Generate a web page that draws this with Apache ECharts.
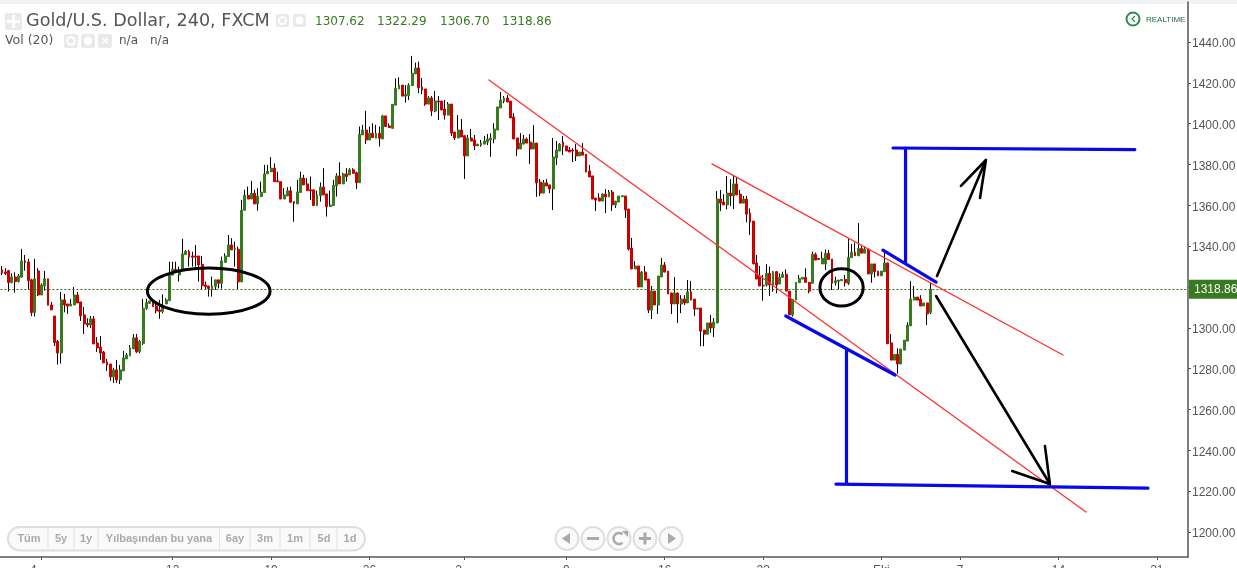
<!DOCTYPE html>
<html><head><meta charset="utf-8">
<style>html,body{margin:0;padding:0;background:#fff}#c{width:1237px;height:568px}</style>
<script src="https://cdn.jsdelivr.net/npm/echarts@6/dist/echarts.min.js"></script>
</head><body><div id="c"></div>
<script>
const opens=[1328.4,1327.4,1328.0,1322.2,1324.9,1322.7,1324.8,1332.8,1332.3,1323.5,
1307.5,1327.9,1316.1,1320.5,1324,1311.2,1305.8,1293.3,1287.7,1313.7,
1311.7,1310.7,1311.2,1316.1,1312.7,1306.3,1302.2,1301.4,1304.4,1292.6,
1290.6,1288.2,1283.3,1282.3,1276,1279.4,1274.5,1278.9,1284.8,1286.2,
1289.7,1295.1,1288.4,1292.4,1309.6,1312,1312.9,1310.7,1308.8,1308,
1311.7,1313.3,1325.8,1328.7,1325.9,1328.4,1335.9,1337.5,1335.2,1335.2,
1335.2,1331.1,1321,1320.5,1318.9,1320.2,1323.5,1321.8,1332.1,1334.9,
1340.6,1338.3,1338.5,1322.5,1357.6,1364.9,1363.1,1365.9,1360.7,1364.3,
1366.3,1375.4,1376.4,1378.2,1372,1371.6,1363.1,1364.6,1367.1,1361.8,
1360.7,1366.3,1373.4,1370.5,1367.6,1367.6,1359.9,1364.8,1369,1365.6,
1359.4,1359.9,1369.5,1374.4,1370.5,1375.4,1374.9,1377.4,1376,1371.1,
1394.5,1396.9,1392,1395.3,1392.9,1395.3,1392.5,1403.8,1398.9,1397.7,
1409.1,1417,1418.9,1413.5,1413.8,1418.7,1424.4,1427.3,1418,1417,
1409.6,1412.6,1406.2,1411.1,1411.1,1407.2,1404.2,1409.6,1395.9,1393,
1396.9,1394.1,1384.2,1393,1392,1389.1,1389.5,1390,1391,1392,
1392.5,1396.9,1407.7,1411,1412.6,1411.1,1403.3,1393,1387.6,1390,
1392.5,1391,1387.6,1390.5,1371.4,1366,1371,1370,1368,1383.2,
1386.6,1391,1389.1,1387.1,1387.1,1387.1,1384.2,1386.1,1385.1,1376.8,
1374.4,1363.6,1363.6,1362.1,1365.5,1364.1,1366.5,1360.2,1361.6,1364.2,
1364.6,1358.2,1339.1,1328.8,1330.3,1320,1327.3,1323.9,1308.7,1318,
1311.2,1324.9,1330.8,1327.8,1317.1,1311.7,1317.1,1311.7,1314.1,1312.2,
1317.6,1314.1,1309.2,1309.7,1298.9,1296.9,1302.4,1299.9,1302.4,1363.1,
1361.6,1360.2,1366,1364.6,1370.5,1365.5,1361.1,1363.1,1356.2,1352.3,
1331.8,1325.4,1320.8,1321,1326.7,1321,1327.5,1321.5,1324.7,1326.2,
1318,1306.3,1313.6,1322.1,1323.9,1324.7,1322.3,1321.8,1336,1334,
1331.3,1331.3,1336.5,1333.7,1322.1,1322.8,1323.1,1323.7,1321.8,1334.4,
1337,1335.3,1338.9,1336.6,1338.6,1326.4,1331.3,1327.8,1325.5,1327.5,
1331.8,1292.6,1284.2,1287,1282.3,1289.1,1293.5,1301,1313.6,1315.1,
1314.1,1310.7,1312.2,1307.62];
const closes=[1326.9,1326.6,1322.2,1324.9,1322.7,1325.4,1332.8,1332.0,1323.1,1307.5,
1324,1316.1,1321,1324,1311.1,1308.8,1292.8,1287.7,1313.7,1311.2,
1310.7,1311.7,1316.1,1312.2,1305.8,1301.9,1301.4,1304.4,1292.1,1290.2,
1287.7,1282.8,1281.8,1276,1279.4,1274.5,1279.4,1285.3,1286.7,1290.2,
1295.1,1288.2,1293.3,1309.6,1312.4,1313.2,1310.4,1308.3,1308,1310.4,
1313.7,1325.8,1328.7,1327.6,1327.6,1336.2,1337.5,1334.6,1334.6,1334.7,
1330.8,1320.7,1320.2,1319.2,1320.5,1323.5,1321.8,1332.8,1335.2,1340.6,
1338.2,1338.8,1322.5,1357.6,1364.9,1363.1,1365.9,1360.7,1364.6,1366.4,
1375.4,1376.7,1378.2,1371.6,1371.5,1363.1,1365.1,1367.1,1361.5,1361,
1366.6,1373.4,1370,1367.2,1367.1,1359.9,1365.1,1369,1365.1,1359.4,
1360.2,1369.8,1374.4,1370.5,1375.4,1374.1,1377.4,1375.7,1371.1,1394.8,
1396.9,1392,1395.3,1393.2,1395.3,1392.9,1403.8,1398.6,1398.1,1409.5,
1417.3,1418.9,1413.5,1414.4,1418.9,1424.7,1427.3,1417.6,1416.5,1409.6,
1412.6,1406.2,1411.1,1410.6,1406.7,1404.2,1409.6,1395.4,1393,1396.9,
1393.5,1384.2,1393,1391.5,1389.1,1390,1390.5,1391.5,1392.5,1393,
1397.4,1408.2,1411.6,1412.6,1410.6,1402.8,1392.5,1387.6,1390.5,1392.5,
1390.5,1387.6,1390.5,1371,1366,1371,1369.5,1368,1383.7,1387.1,
1390,1388.7,1386.6,1386.1,1386.6,1384.2,1386.1,1384.6,1376.3,1373.9,
1363.1,1362.6,1362.1,1365.5,1364.1,1366.5,1360.2,1362.1,1364.6,1364.7,
1357.7,1338.6,1328.8,1330.3,1320,1327.3,1323.4,1308.7,1318,1311.2,
1325.4,1330.8,1327.3,1316.6,1311.7,1317.1,1311.7,1314.1,1312.2,1317.6,
1313.6,1309.2,1309.7,1298.4,1296.9,1302.4,1299.9,1302.8,1363.1,1361.1,
1360.2,1366,1364.6,1370.5,1365.1,1361.1,1363.1,1355.7,1351.8,1331.3,
1323.9,1320.5,1320.5,1326.7,1321,1327.5,1321,1324.7,1326.2,1318,
1306.3,1313.9,1322.3,1324.2,1324.7,1322.3,1318,1336,1333.2,1333.5,
1334,1336.5,1333.5,1321.8,1323.1,1323.4,1323.7,1322.1,1334.5,1337,
1335.3,1338.9,1336.6,1338.6,1326.4,1331.3,1327.5,1325.5,1327.8,1331.8,
1292.2,1284.2,1287,1282.3,1289.6,1294,1301.4,1314.1,1315.1,1313.6,
1310.7,1312.2,1306.8,1318.86];
const lows=[1325.9,1325.9,1317.8,1321.8,1317.3,1322.2,1324.8,1328.0,1318.6,1305.8,
1305.5,1315.6,1316.1,1318.2,1311.1,1308.8,1291.1,1282,1282.5,1307.6,
1306.8,1310.7,1311.2,1312.2,1303.4,1297,1300.3,1300,1292.1,1288.2,
1284.3,1282.8,1278.9,1274,1273,1273,1272.5,1278.9,1284.8,1286.2,
1289.7,1287.7,1287.5,1291.6,1308.8,1312,1310.4,1307.1,1304.4,1307.1,
1311.7,1313.3,1325.8,1327.6,1322.7,1328.4,1335.9,1330,1330,1330,
1322.7,1318.6,1318.6,1315.3,1315.3,1318.6,1319.4,1319.2,1332.1,1334.9,
1338.2,1330,1318.6,1322.5,1357.6,1363.1,1363.1,1360.7,1357.4,1364.3,
1366.3,1375.4,1376.4,1371.6,1371.5,1363.1,1363.1,1364.6,1361.5,1352,
1360.7,1366.3,1370,1367.2,1362.7,1359.9,1359.9,1361.8,1365.1,1354.5,
1359.4,1359.9,1364.3,1370.5,1370.5,1371.6,1374.9,1375.7,1368,1371.1,
1394.5,1390.1,1392,1393.2,1392.9,1388.8,1392.5,1398.6,1398.1,1397.7,
1409.1,1417,1413.5,1410.3,1411.6,1418.7,1424.4,1414.9,1414.5,1408.8,
1409.6,1403.8,1405.6,1401.8,1406.7,1402,1404.2,1394,1392,1393,
1393.5,1372.9,1384.2,1391.5,1387.1,1389.1,1388.7,1390,1389.5,1383.8,
1390.4,1396.9,1407.7,1410,1410.6,1402.8,1392.5,1384.2,1387.6,1390,
1390.5,1380.2,1387.6,1364.2,1364.6,1366,1369.5,1366,1357.7,1379.8,
1386.6,1384.6,1386.6,1386.1,1381.2,1381.7,1384.2,1384.6,1376.3,1373.9,
1363.1,1357.2,1362.1,1362.1,1356.2,1364.1,1357.2,1358.7,1361.6,1364.2,
1353.8,1337.8,1328.8,1328.8,1320,1320,1323.4,1307.2,1304.3,1311.2,
1306.8,1324.9,1327.3,1316.6,1306.8,1311.7,1302.4,1307.2,1311.2,1312.2,
1313.6,1305.8,1309.2,1291,1291,1296.9,1297.5,1295.5,1302.4,1357.2,
1360.2,1358,1359.7,1358.2,1365.1,1361.1,1361.1,1351.7,1345.5,1331.3,
1323.9,1320.5,1313.3,1320.2,1315.6,1317.7,1316.9,1321.5,1324.7,1318,
1306.3,1305.5,1313.6,1322.1,1323.9,1322.3,1316.9,1321.8,1333.2,1333.5,
1331.3,1328.3,1333.5,1318.5,1320.8,1318.8,1323.1,1320.2,1321,1334.4,
1335.3,1335.3,1336.6,1336.6,1326.4,1322.1,1324.7,1325.5,1325.5,1327.5,
1292.2,1284.2,1284.2,1277.5,1282.3,1289.1,1293.5,1301,1313.6,1313.6,
1310.7,1310.7,1301.4,1306.7];
const highs=[1330.3,1329.2,1328.4,1326.7,1327.2,1326.4,1338.7,1335.7,1333.8,1324,
1333.8,1329.2,1321.8,1327.9,1324,1312.7,1305.8,1294.1,1317.6,1316.6,
1311.7,1314.2,1320,1317.6,1312.7,1310.2,1304.7,1305.8,1305.8,1295.5,
1296,1288.7,1284.8,1282.3,1280.4,1284.3,1281.8,1288.7,1287.7,1291.6,
1297,1297,1294.1,1314.2,1314.2,1313.2,1314.2,1312.9,1313.7,1316.4,
1314.5,1332.4,1332.4,1332.4,1330,1343.6,1338.2,1338.2,1337.3,1340.6,
1335.2,1335.2,1322.7,1320.5,1325.1,1323.5,1323.5,1334.9,1336.5,1345.5,
1343.9,1342.2,1339.8,1362.7,1367.6,1369.2,1372,1367.6,1368.4,1371.6,
1379.8,1379.8,1383.6,1380.6,1376.5,1371.6,1368.4,1368.9,1369.2,1361.8,
1372.5,1376.5,1374.9,1373.3,1374.1,1367.6,1367.2,1371.2,1378.2,1365.6,
1367.2,1372.5,1375.7,1381.1,1376,1378.2,1378.2,1378.2,1376.5,1398.6,
1399.4,1406.3,1398.6,1400.2,1399.4,1398.6,1404.3,1403.8,1400.2,1409.5,
1422.2,1422.7,1418.9,1418.9,1419.8,1433.2,1429.9,1430.4,1422.4,1417,
1413.5,1413.5,1416,1413.5,1411.1,1411.6,1410.6,1409.6,1395.9,1404.2,
1402.3,1394.1,1394.5,1397.4,1394.5,1390,1392,1394,1394.9,1395.3,
1400.2,1408.2,1415.5,1413.5,1414,1411.1,1405.2,1393,1395.4,1394.5,
1393.2,1394.9,1399.3,1390.5,1372.9,1372.4,1372.9,1370,1393,1391.5,
1390.5,1394,1389.1,1388.6,1388,1390,1386.1,1390.5,1385.1,1379.8,
1374.4,1363.6,1365.9,1365.9,1368,1367.5,1367.5,1362.1,1364.6,1364.7,
1364.6,1358.2,1344,1332.7,1330.3,1327.8,1330.3,1323.9,1320.5,1318,
1325.4,1334.2,1332.2,1327.8,1317.1,1324.9,1317.1,1316,1316,1323.4,
1323,1314.1,1309.7,1309.7,1298.9,1302.4,1306.3,1304.8,1367,1367.5,
1365.5,1374.4,1372.9,1374.4,1373.9,1367.5,1364.6,1364.6,1358.5,1352.3,
1335.7,1330.3,1325.9,1331.1,1330,1327.8,1327.8,1326.7,1327.5,1328.6,
1318,1313.9,1322.3,1325.9,1324.7,1329.1,1322.3,1337.3,1336.8,1334,
1337.3,1338.4,1338.1,1333.7,1325,1323.4,1323.7,1325.9,1343.5,1341.1,
1341.7,1351.3,1340.6,1340.1,1338.6,1331.3,1331.3,1327.8,1327.8,1338.1,
1331.8,1297,1287,1290,1289.6,1294,1302.7,1322.9,1320.5,1315.1,
1316,1312.2,1312.2,1322.29];

const bandCount=362;
const lastPrice=1318.86;
const yTicks=[1200,1220,1240,1260,1280,1300,1320,1340,1360,1380,1400,1420,1440];
const xTickIndex=[12,52,82,112,141,172,202,232,268,292,322,352];
const xTickLabels=['4','12','19','26','2','9','16','23','Eki','7','14','21'];
const headerValues=['1307.62','1322.29','1306.70','1318.86'];

// hand-drawn annotations: [candle index, price]
const redLines=[[[148.4,1421.4],[330.4,1209.8]],[[216.4,1380.3],[323.4,1286.7]]];
const blueLines=[
 [[271.6,1388.1],[345.3,1387.3]],
 [[275.4,1388.1],[275.4,1332.2]],
 [[268.5,1338.1],[284.7,1322.4]],
 [[238.9,1305.8],[272.2,1276.9]],
 [[257.4,1288.7],[257.4,1224]],
 [[254.2,1223.5],[349.3,1221.5]]
];
const blackLines=[
 [[285,1325.4],[299.9,1382.2]],
 [[292.3,1369.5],[299.9,1382.2],[298.1,1363.6]],
 [[284.7,1315.6],[319.4,1223.5]],
 [[307.9,1229.9],[319.4,1223.5],[317.9,1242.1]]
];
const ellipses=[[63,1318.0,18.7,11.3],[255.9,1319.8,6.6,9.1]];

const GREEN='#377a1f',RED='#cc0000';
const leftShifted={0:16,4:12};
const categories=Array.from({length:bandCount},(_,i)=>{
  const k=xTickIndex.indexOf(i);
  if(k<0) return String(i);
  return leftShifted[k]?{value:xTickLabels[k],textStyle:{padding:[0,leftShifted[k],0,0]}}:xTickLabels[k];
});
const ohlc=opens.map((o,i)=>[o,closes[i],lows[i],highs[i]]);
const bodies=opens.map((o,i)=>[o,closes[i],Math.min(o,closes[i]),Math.max(o,closes[i])]);

function seg(points,color,width){return{type:'line',xAxisIndex:1,yAxisIndex:0,data:points,showSymbol:false,symbol:'none',silent:true,z:5,
 lineStyle:{color:color,width:width,cap:'round',join:'round'},animation:false};}

const F='"DejaVu Sans",Verdana,sans-serif',A='"Liberation Sans",Arial,sans-serif';
const G=[];
function sq(x,y,s){G.push({type:'rect',shape:{x:x,y:y,width:s,height:s,r:2},style:{fill:'#e9e9e9'},z:20});}
function eye(x,y,s){sq(x,y,s);G.push({type:'circle',shape:{cx:x+s/2,cy:y+s/2,r:s*0.27},style:{fill:'none',stroke:'#fff',lineWidth:2},z:21});}
function gear(x,y,s){sq(x,y,s);G.push({type:'circle',shape:{cx:x+s/2,cy:y+s/2,r:s*0.3},style:{fill:'#fff'},z:21});}
function txt(x,y,t,font,fill,align){G.push({type:'text',x:x,y:y,style:{text:t,font:font,fill:fill,align:align||'left',verticalAlign:'middle'},z:22});}
G.push({type:'rect',shape:{x:0,y:0,width:1237,height:4},style:{fill:'#f1f1f6'},z:-1});
sq(5,13,17);
G.push({type:'rect',shape:{x:12,y:15,width:3,height:13},style:{fill:'#fff'},z:21},{type:'rect',shape:{x:7,y:20,width:13,height:3},style:{fill:'#fff'},z:21});
txt(26,21,'Gold/U.S. Dollar, 240, FXCM','17.6px '+F,'#555');
eye(276,14,13);gear(293,14,13);
[315,377,440,502].forEach((x,i)=>txt(x,22,headerValues[i],'12px '+F,'#377a1f'));
txt(5,41,'Vol (20)','12.5px '+F,'#555');
eye(64,34,14);gear(81,34,14);sq(98,34,14);
txt(105,41,'×','bold 13px '+A,'#fff','center');
txt(119,41,'n/a','12px '+F,'#555');txt(150,41,'n/a','12px '+F,'#555');
// realtime badge
G.push({type:'circle',shape:{cx:1133,cy:19,r:6.5},style:{fill:'none',stroke:'#2e8b57',lineWidth:2},z:21});
G.push({type:'polyline',shape:{points:[[1135,16],[1132,19],[1135,22]]},style:{fill:'none',stroke:'#2e8b57',lineWidth:1.2},z:21});
txt(1146,20,'REALTIME','8px '+A,'#1f6b45');
// range selector
G.push({type:'rect',shape:{x:8,y:527,width:357,height:23.5,r:12},style:{fill:'#fafafa',stroke:'#dedede',lineWidth:2},z:20});
[48,74,98,219.5,250,280,310,337].forEach(x=>G.push({type:'line',shape:{x1:x,y1:528,x2:x,y2:550},style:{stroke:'#e2e2e2',lineWidth:1},z:21}));
[['Tüm',29],['5y',61],['1y',86],['Yılbaşından bu yana',159],['6ay',235],['3m',265],['1m',295],['5d',324],['1d',350]]
 .forEach(b=>txt(b[1],538.5,b[0],'bold 11px '+A,'#aaa','center'));
// navigation
[567,593,619,645,671].forEach(x=>G.push({type:'circle',shape:{cx:x,cy:538.5,r:11.5},style:{fill:'#fafafa',stroke:'#dedede',lineWidth:2},z:20}));
G.push({type:'polygon',shape:{points:[[562,538.5],[570,533],[570,544]]},style:{fill:'#aaa'},z:21});
G.push({type:'rect',shape:{x:587,y:537,width:12,height:3},style:{fill:'#aaa'},z:21});
G.push({type:'arc',shape:{cx:619,cy:538.5,r:5.5,startAngle:-0.9,endAngle:0.9,clockwise:false},style:{fill:'none',stroke:'#aaa',lineWidth:2.5},z:21});
G.push({type:'polygon',shape:{points:[[622,531],[628,531],[628,537]]},style:{fill:'#aaa'},z:21});
G.push({type:'rect',shape:{x:639,y:537,width:12,height:3},style:{fill:'#aaa'},z:21},{type:'rect',shape:{x:643.5,y:532.5,width:3,height:12},style:{fill:'#aaa'},z:21});
G.push({type:'polygon',shape:{points:[[676,538.5],[668,533],[668,544]]},style:{fill:'#aaa'},z:21});

const series=[
 {type:'candlestick',name:'wick',data:ohlc,barWidth:1,z:2,animation:false,silent:true,
  itemStyle:{color:'#000',color0:'#000',borderColor:'#000',borderColor0:'#000',borderWidth:1}},
 {type:'candlestick',name:'body',data:bodies,barWidth:2.4,z:3,animation:false,silent:true,
  itemStyle:{color:GREEN,color0:RED,borderColor:GREEN,borderColor0:RED,borderWidth:1},
  markLine:{silent:true,symbol:'none',animation:false,z:4,
   lineStyle:{color:'#2f6b1a',type:[2,2],width:1},
   label:{show:true,position:'end',formatter:lastPrice.toFixed(2),color:'#fff',backgroundColor:GREEN,
     padding:[4,6,3,5],font:'12px '+A,distance:1},
   data:[{yAxis:lastPrice}]}},
 {type:'custom',xAxisIndex:1,yAxisIndex:0,z:5,silent:true,animation:false,data:ellipses,
  encode:{x:0,y:1},
  renderItem:function(p,api){
    const c=api.coord([api.value(0),api.value(1)]);
    const e=api.coord([api.value(0)+api.value(2),api.value(1)+api.value(3)]);
    return{type:'ellipse',shape:{cx:c[0],cy:c[1],rx:e[0]-c[0],ry:c[1]-e[1]},style:{fill:'none',stroke:'#000',lineWidth:3}};
  }}
];
redLines.forEach(l=>series.push(seg(l,'#ff3030',1.3)));
blueLines.forEach(l=>series.push(seg(l,'#0808e8',3.2)));
blackLines.forEach(l=>series.push(seg(l,'#000',2.6)));

const chart=echarts.init(document.getElementById('c'),null,{renderer:'canvas'});
chart.setOption({
 animation:false,backgroundColor:'#fff',
 grid:{left:0.4,width:1187.6,top:2,height:555,containLabel:false,outerBoundsMode:'none'},
 xAxis:[
  {type:'category',data:categories,boundaryGap:true,position:'bottom',
   axisLine:{onZero:false,lineStyle:{color:'#555',width:1.5}},
   axisTick:{show:true,length:3,alignWithLabel:true,interval:i=>xTickIndex.includes(i),lineStyle:{color:'#555'}},
   axisLabel:{show:true,interval:i=>xTickIndex.includes(i),margin:8,font:'11px '+A,color:'#555',hideOverlap:false},
   splitLine:{show:false}},
  {type:'value',min:-0.5,max:bandCount-0.5,show:false,splitLine:{show:false}}
 ],
 yAxis:[{type:'value',position:'right',min:1187.76,max:1459.6,scale:true,
   axisLine:{show:true,onZero:false,lineStyle:{color:'#555',width:1.5}},
   axisTick:{show:true,length:3,customValues:yTicks,lineStyle:{color:'#555'}},
   axisLabel:{show:true,customValues:yTicks,margin:4,verticalAlign:'top',lineHeight:4,formatter:v=>Number(v).toFixed(2),font:'11px '+A,color:'#555'},
   splitLine:{show:false}}],
 graphic:{elements:G},
 series:series
});
</script></body></html>
